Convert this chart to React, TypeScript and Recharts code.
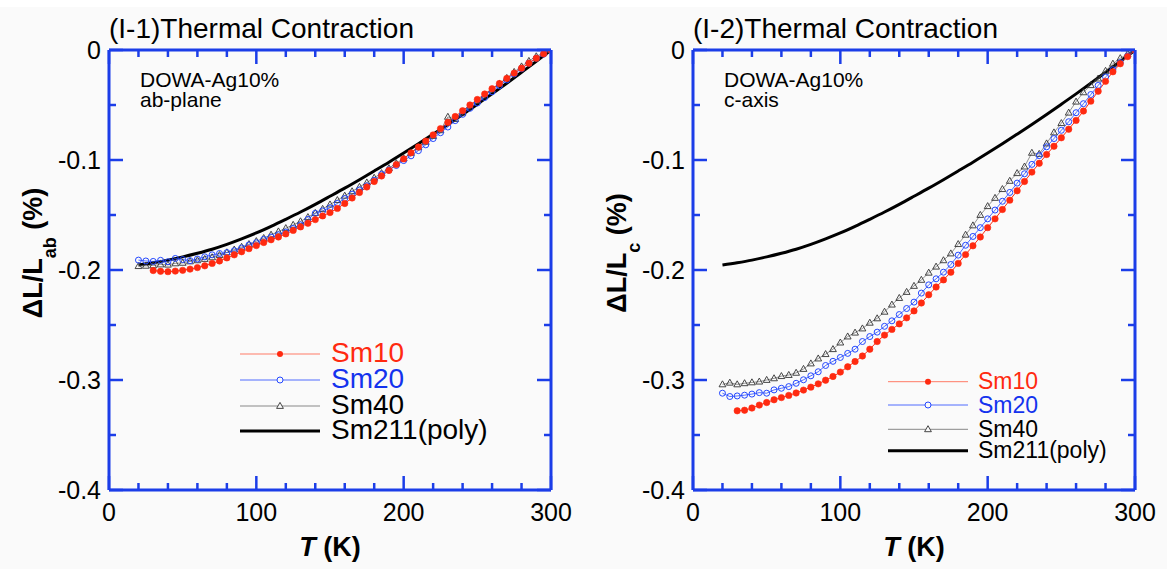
import React from 'react';
import { ComposedChart, Line, XAxis, YAxis } from 'recharts';

// temperatures (K) of the measured points, every 5 K
const temps = [
  20, 25, 30, 35, 40, 45, 50, 55, 60, 65,
  70, 75, 80, 85, 90, 95, 100, 105, 110, 115,
  120, 125, 130, 135, 140, 145, 150, 155, 160, 165,
  170, 175, 180, 185, 190, 195, 200, 205, 210, 215,
  220, 225, 230, 235, 240, 245, 250, 255, 260, 265,
  270, 275, 280, 285, 290, 295, 300,
];

// temperatures for the Sm211(poly) reference curve, every 10 K
const polyTemps = [
  20, 30, 40, 50, 60, 70, 80, 90, 100, 110,
  120, 130, 140, 150, 160, 170, 180, 190, 200, 210,
  220, 230, 240, 250, 260, 270, 280, 290, 300,
];

// Sm211(poly) curve, the same reference in both panels
const sm211Poly = [
  -0.1955, -0.1934, -0.1910, -0.1881, -0.1848, -0.1811, -0.1767, -0.1717, -0.1663, -0.1603,
  -0.1539, -0.1473, -0.1403, -0.1330, -0.1256, -0.1179, -0.1100, -0.1020, -0.0937, -0.0852,
  -0.0765, -0.0677, -0.0586, -0.0493, -0.0399, -0.0302, -0.0203, -0.0103, 0,
];

// (I-1) ab-plane, dL/L in %
const abSm10 = [
  null, null, -0.2005, -0.2012, -0.2015, -0.2010, -0.2003, -0.1992, -0.1978, -0.1962,
  -0.1940, -0.1918, -0.1890, -0.1862, -0.1834, -0.1806, -0.1778, -0.1750, -0.1725, -0.1700,
  -0.1672, -0.1640, -0.1608, -0.1575, -0.1542, -0.1508, -0.1478, -0.1440, -0.1395, -0.1345,
  -0.1295, -0.1245, -0.1195, -0.1145, -0.1095, -0.1042, -0.0990, -0.0935, -0.0882, -0.0828,
  -0.0772, -0.0715, -0.0658, -0.0605, -0.0552, -0.0500, -0.0450, -0.0400, -0.0352, -0.0305,
  -0.0258, -0.0210, -0.0165, -0.0120, -0.0075, -0.0035, 0,
];
const abSm20 = [
  -0.1910, -0.1918, -0.1922, -0.1912, -0.1925, -0.1895, -0.1905, -0.1915, -0.1900, -0.1880,
  -0.1862, -0.1850, -0.1842, -0.1825, -0.1800, -0.1772, -0.1752, -0.1722, -0.1700, -0.1680,
  -0.1655, -0.1622, -0.1590, -0.1540, -0.1485, -0.1462, -0.1435, -0.1395, -0.1350, -0.1310,
  -0.1272, -0.1235, -0.1185, -0.1130, -0.1090, -0.1050, -0.1005, -0.0962, -0.0915, -0.0862,
  -0.0805, -0.0752, -0.0700, -0.0642, -0.0585, -0.0530, -0.0482, -0.0432, -0.0380, -0.0325,
  -0.0272, -0.0218, -0.0170, -0.0120, -0.0075, -0.0038, 0,
];
const abSm40 = [
  -0.1965, -0.1962, -0.1958, -0.1950, -0.1952, -0.1940, -0.1935, -0.1922, -0.1912, -0.1900,
  -0.1885, -0.1865, -0.1840, -0.1815, -0.1790, -0.1765, -0.1738, -0.1710, -0.1680, -0.1650,
  -0.1620, -0.1590, -0.1558, -0.1520, -0.1482, -0.1445, -0.1405, -0.1365, -0.1325, -0.1285,
  -0.1245, -0.1205, -0.1162, -0.1120, -0.1075, -0.1030, -0.0985, -0.0935, -0.0885, -0.0835,
  -0.0782, -0.0730, -0.0608, -0.0628, -0.0570, -0.0515, -0.0465, -0.0415, -0.0362, -0.0308,
  -0.0255, -0.0200, -0.0150, -0.0100, -0.0058, -0.0025, 0,
];

// (I-2) c-axis, dL/L in %
const cSm10 = [
  null, null, -0.3280, -0.3275, -0.3255, -0.3228, -0.3205, -0.3180, -0.3160, -0.3140,
  -0.3118, -0.3092, -0.3065, -0.3035, -0.3002, -0.2968, -0.2928, -0.2880, -0.2832, -0.2782,
  -0.2720, -0.2650, -0.2592, -0.2540, -0.2490, -0.2435, -0.2372, -0.2300, -0.2225, -0.2155,
  -0.2090, -0.2020, -0.1940, -0.1860, -0.1780, -0.1700, -0.1615, -0.1535, -0.1450, -0.1365,
  -0.1280, -0.1195, -0.1110, -0.1030, -0.0950, -0.0875, -0.0798, -0.0720, -0.0640, -0.0555,
  -0.0465, -0.0375, -0.0285, -0.0198, -0.0125, -0.0060, 0,
];
const cSm20 = [
  -0.3120, -0.3150, -0.3145, -0.3138, -0.3128, -0.3115, -0.3120, -0.3090, -0.3075, -0.3060,
  -0.3030, -0.2998, -0.2962, -0.2925, -0.2868, -0.2830, -0.2795, -0.2758, -0.2720, -0.2650,
  -0.2605, -0.2565, -0.2512, -0.2462, -0.2405, -0.2350, -0.2292, -0.2210, -0.2135, -0.2080,
  -0.2020, -0.1950, -0.1865, -0.1775, -0.1695, -0.1615, -0.1535, -0.1455, -0.1375, -0.1295,
  -0.1210, -0.1125, -0.1040, -0.0960, -0.0880, -0.0805, -0.0730, -0.0652, -0.0570, -0.0488,
  -0.0405, -0.0322, -0.0245, -0.0180, -0.0115, -0.0055, 0,
];
const cSm40 = [
  -0.3040, -0.3025, -0.3040, -0.3030, -0.3022, -0.3015, -0.3000, -0.2985, -0.2965, -0.2955,
  -0.2935, -0.2900, -0.2850, -0.2805, -0.2765, -0.2720, -0.2660, -0.2605, -0.2570, -0.2532,
  -0.2480, -0.2440, -0.2380, -0.2315, -0.2255, -0.2200, -0.2145, -0.2090, -0.2025, -0.1970,
  -0.1912, -0.1850, -0.1765, -0.1680, -0.1595, -0.1500, -0.1420, -0.1345, -0.1265, -0.1190,
  -0.1120, -0.1060, -0.0935, -0.0945, -0.0850, -0.0750, -0.0665, -0.0570, -0.0470, -0.0385,
  -0.0320, -0.0260, -0.0190, -0.0125, -0.0075, -0.0035, 0,
];

const xTicks = [0, 20, 40, 60, 80, 100, 120, 140, 160, 180, 200, 220, 240, 260, 280, 300];
const yTicks = [0, -0.05, -0.1, -0.15, -0.2, -0.25, -0.3, -0.35, -0.4];

const BLUE = '#1b3de8';
const RED = '#ff2a10';
const CIRCLE = '#2448ff';
const FONT = '"Liberation Sans", Arial, Helvetica, sans-serif';

const toPoints = (ts: number[], vs: (number | null)[]) =>
  ts.map((T, i) => ({ T, v: vs[i] })).filter((d) => d.v !== null);

const isMajorX = (v: number) => v % 100 === 0;
const isMajorY = (v: number) => Math.abs(v * 10 - Math.round(v * 10)) < 1e-6;
const MAJOR = 14;
const MINOR = 7;
const TICK_W = 2.5;

const BottomTick = ({ x, y, payload }: any) => {
  const major = isMajorX(payload.value);
  return (
    <g>
      <line x1={x} x2={x} y1={y} y2={y - (major ? MAJOR : MINOR)} stroke={BLUE} strokeWidth={TICK_W} />
      {major && (
        <text x={x} y={y + 31} textAnchor="middle" fontSize={25} fontFamily={FONT} fill="#000">
          {payload.value}
        </text>
      )}
    </g>
  );
};

const TopTick = ({ x, y, payload }: any) => (
  <line x1={x} x2={x} y1={y} y2={y + (isMajorX(payload.value) ? MAJOR : MINOR)} stroke={BLUE} strokeWidth={TICK_W} />
);

const LeftTick = ({ x, y, payload }: any) => {
  const major = isMajorY(payload.value);
  return (
    <g>
      <line x1={x} x2={x + (major ? MAJOR : MINOR)} y1={y} y2={y} stroke={BLUE} strokeWidth={TICK_W} />
      {major && (
        <text x={x - 8} y={y + 9} textAnchor="end" fontSize={25} fontFamily={FONT} fill="#000">
          {payload.value === 0 ? '0' : payload.value.toFixed(1)}
        </text>
      )}
    </g>
  );
};

const RightTick = ({ x, y, payload }: any) => (
  <line x1={x} x2={x - (isMajorY(payload.value) ? MAJOR : MINOR)} y1={y} y2={y} stroke={BLUE} strokeWidth={TICK_W} />
);

const RedDot = (p: any) => (
  <circle key={p.index} cx={p.cx} cy={p.cy} r={3.2} fill={RED} stroke={RED} strokeWidth={0.6} />
);
const BlueCircle = (p: any) => (
  <circle key={p.index} cx={p.cx} cy={p.cy} r={3} fill="none" stroke={CIRCLE} strokeWidth={1} />
);
const Triangle = (p: any) => (
  <path
    key={p.index}
    d={`M${p.cx},${p.cy - 3.6} L${p.cx - 3.4},${p.cy + 2.4} L${p.cx + 3.4},${p.cy + 2.4} Z`}
    fill="none"
    stroke="#333"
    strokeWidth={0.9}
  />
);

interface PanelProps {
  sm10: (number | null)[];
  sm20: (number | null)[];
  sm40: (number | null)[];
  poly: number[];
  width: number;
  right: number;
}

const axisLine = { stroke: BLUE, strokeWidth: 3 };

// axes are 1px thick (recharts skips 0-sized axes), margins compensate
const Panel = ({ sm10, sm20, sm40, poly, width, right }: PanelProps) => (
  <ComposedChart width={width} height={569} margin={{ top: 49, right, bottom: 78, left: 108 }}>
    <XAxis xAxisId="b" dataKey="T" type="number" scale="linear" domain={[0, 300]} allowDataOverflow
      ticks={xTicks} interval={0} height={1} tickSize={0} tickMargin={0} tickLine={false}
      axisLine={axisLine} tick={(p: any) => <BottomTick {...p} />} />
    <XAxis xAxisId="t" orientation="top" dataKey="T" type="number" scale="linear" domain={[0, 300]} allowDataOverflow
      ticks={xTicks} interval={0} height={1} tickSize={0} tickMargin={0} tickLine={false}
      axisLine={axisLine} tick={(p: any) => <TopTick {...p} />} />
    <YAxis yAxisId="l" type="number" scale="linear" domain={[-0.4, 0]} allowDataOverflow
      ticks={yTicks} interval={0} width={1} tickSize={0} tickMargin={0} tickLine={false}
      axisLine={axisLine} tick={(p: any) => <LeftTick {...p} />} />
    <YAxis yAxisId="r" orientation="right" type="number" scale="linear" domain={[-0.4, 0]} allowDataOverflow
      ticks={yTicks} interval={0} width={1} tickSize={0} tickMargin={0} tickLine={false}
      axisLine={axisLine} tick={(p: any) => <RightTick {...p} />} />

    <Line xAxisId="t" yAxisId="r" data={toPoints(polyTemps, poly)} dataKey="v" type="monotone"
      stroke="#000" strokeWidth={3} dot={false} isAnimationActive={false} />
    <Line xAxisId="b" yAxisId="l" data={toPoints(temps, sm40)} dataKey="v" type="linear"
      stroke="#777" strokeWidth={0.8} dot={Triangle} isAnimationActive={false} />
    <Line xAxisId="b" yAxisId="l" data={toPoints(temps, sm20)} dataKey="v" type="linear"
      stroke={CIRCLE} strokeWidth={0.8} dot={BlueCircle} isAnimationActive={false} />
    <Line xAxisId="b" yAxisId="l" data={toPoints(temps, sm10)} dataKey="v" type="linear"
      stroke={RED} strokeWidth={1} dot={RedDot} isAnimationActive={false} />
  </ComposedChart>
);

interface LegendProps {
  x1: number;
  x2: number;
  tx: number;
  ys: number[];
  fontSize: number;
}

const LegendBlock = ({ x1, x2, tx, ys, fontSize }: LegendProps) => {
  const mx = (x1 + x2) / 2;
  return (
    <g fontFamily={FONT} fontSize={fontSize}>
      <line x1={x1} x2={x2} y1={ys[0]} y2={ys[0]} stroke="#ff7a66" strokeWidth={1} />
      <circle cx={mx} cy={ys[0]} r={3} fill={RED} />
      <text x={tx} y={ys[0] + 7.5} fill={RED}>Sm10</text>

      <line x1={x1} x2={x2} y1={ys[1]} y2={ys[1]} stroke={CIRCLE} strokeWidth={0.8} />
      <circle cx={mx} cy={ys[1]} r={3} fill="#fafafa" stroke={CIRCLE} strokeWidth={1} />
      <text x={tx} y={ys[1] + 7.5} fill="#1433ee">Sm20</text>

      <line x1={x1} x2={x2} y1={ys[2]} y2={ys[2]} stroke="#888" strokeWidth={1} />
      <path d={`M${mx},${ys[2] - 3.6} L${mx - 3.4},${ys[2] + 2.4} L${mx + 3.4},${ys[2] + 2.4} Z`}
        fill="#fafafa" stroke="#333" strokeWidth={0.9} />
      <text x={tx} y={ys[2] + 7.5} fill="#000">Sm40</text>

      <line x1={x1} x2={x2} y1={ys[3]} y2={ys[3]} stroke="#000" strokeWidth={3} />
      <text x={tx} y={ys[3] + 7.5} fill="#000">Sm211(poly)</text>
    </g>
  );
};

const Labels = ({ dx, title, note, sub }: { dx: number; title: string; note: string; sub: string }) => (
  <g fontFamily={FONT} fill="#000">
    <text x={109 + dx} y={37.5} fontSize={28}>{title}</text>
    <text x={140 + dx} y={86.7} fontSize={21}>DOWA-Ag10%</text>
    <text x={140 + dx} y={106.7} fontSize={21}>{note}</text>
    <text x={42 + dx} y={253} transform={`rotate(-90 ${42 + dx} 253)`} textAnchor="middle"
      fontSize={27} fontWeight="bold">
      ΔL/L<tspan fontSize={18} dy={14}>{sub}</tspan><tspan dy={-14}> (%)</tspan>
    </text>
    <text x={330 + dx} y={556} textAnchor="middle" fontSize={27} fontWeight="bold">
      <tspan fontStyle="italic">T</tspan> (K)
    </text>
  </g>
);

export default function App() {
  return (
    <div style={{ position: 'absolute', left: 0, top: 0, width: 1167, height: 569, background: '#fafafa', overflow: 'hidden' }}>
      <div style={{ position: 'absolute', left: 0, top: 0, width: 1167, height: 7, background: '#fff' }} />
      <div style={{ position: 'absolute', left: 0, top: 0 }}>
        <Panel sm10={abSm10} sm20={abSm20} sm40={abSm40} poly={sm211Poly} width={584} right={32} />
      </div>
      <div style={{ position: 'absolute', left: 584, top: 0 }}>
        <Panel sm10={cSm10} sm20={cSm20} sm40={cSm40} poly={sm211Poly} width={583} right={31} />
      </div>
      <svg width={1167} height={569} style={{ position: 'absolute', left: 0, top: 0, pointerEvents: 'none' }}>
        <Labels dx={0} title="(I-1)Thermal Contraction" note="ab-plane" sub="ab" />
        <Labels dx={584} title="(I-2)Thermal Contraction" note="c-axis" sub="c" />
        <LegendBlock x1={240} x2={320} tx={331} ys={[354, 380, 406, 431]} fontSize={28} />
        <LegendBlock x1={888} x2={968} tx={978} ys={[381.7, 405, 429.3, 450.7]} fontSize={23} />
      </svg>
    </div>
  );
}
